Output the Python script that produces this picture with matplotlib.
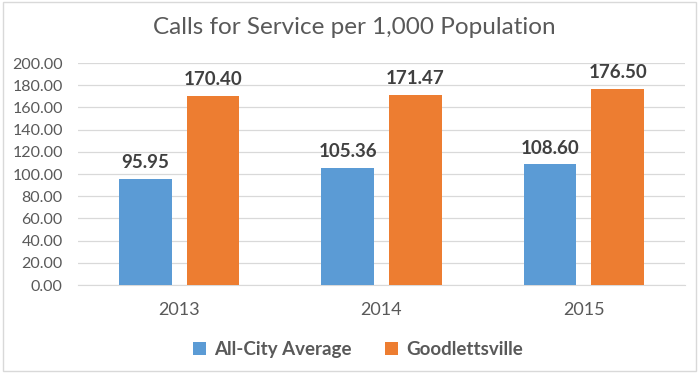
import numpy as np
import matplotlib.pyplot as plt
from matplotlib.patches import Rectangle

## data
years = ["2013", "2014", "2015"]
all_city = [95.95, 105.36, 108.60]
goodlettsville = [170.40, 171.47, 176.50]

blue = "#5B9BD5"
orange = "#ED7D31"
plt.rcParams["font.family"] = ["Lato", "DejaVu Sans"]

fig = plt.figure(figsize=(6.99, 3.73), dpi=100)
ax = fig.add_axes([0.1116, 0.2359, 0.8684, 0.5951])

x = np.arange(len(years))
w = 0.26
off = 0.167
b1 = ax.bar(x - off, all_city, w, color=blue, label="All-City Average", zorder=3)
b2 = ax.bar(x + off, goodlettsville, w, color=orange, label="Goodlettsville", zorder=3)

for bars in (b1, b2):
    for b in bars:
        ax.text(b.get_x() + b.get_width()/2, b.get_height() + 7, "%.2f" % b.get_height(),
                ha="center", va="bottom", fontsize=13.5, fontweight="bold", color="#404040")

ax.set_xlim(-0.5, 2.5)
ax.set_ylim(0, 200)
ax.set_yticks(np.arange(0, 201, 20))
ax.set_yticklabels(["%.2f" % v for v in np.arange(0, 201, 20)])
ax.set_xticks(x)
ax.set_xticklabels(years)
ax.tick_params(axis="both", length=0, colors="#595959")
ax.tick_params(axis="x", pad=12, labelsize=13)
ax.tick_params(axis="y", pad=11, labelsize=11.5)
ax.grid(axis="y", color="#D9D9D9", lw=0.9, zorder=0)
for s in ["top", "right", "left"]:
    ax.spines[s].set_visible(False)
ax.spines["bottom"].set_color("#D9D9D9")

fig.text(0.507, 0.925, "Calls for Service per 1,000 Population", fontsize=17.5,
         color="#595959", ha="center", va="center")

leg = fig.legend(loc="center", bbox_to_anchor=(0.512, 0.062), ncol=2, frameon=False,
                 handlelength=0.7, handleheight=0.7, columnspacing=1.8, handletextpad=0.4,
                 prop={"size": 13.5, "weight": "bold"})
for t in leg.get_texts():
    t.set_color("#595959")

fig.patches.append(Rectangle((0.005, 0.005), 0.99, 0.99, transform=fig.transFigure,
                             fill=False, edgecolor="#D9D9D9", lw=1))

fig.savefig("out.png", dpi=100)
